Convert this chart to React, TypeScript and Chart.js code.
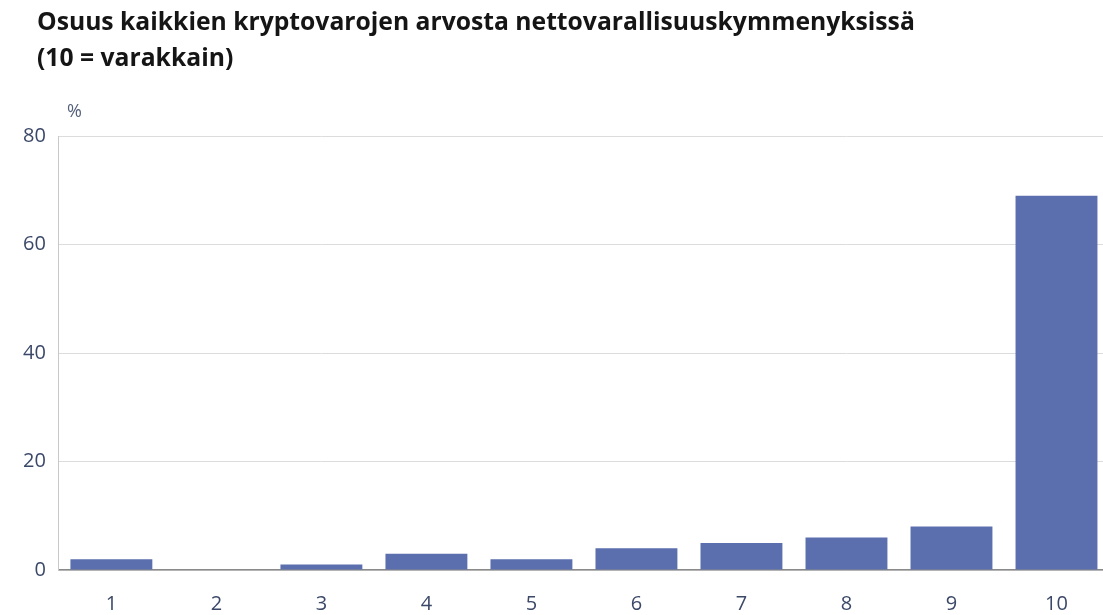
import React, { useEffect, useRef } from "react";
import { Chart, registerables } from "chart.js";

Chart.register(...registerables);

const titleLines = [
  "Osuus kaikkien kryptovarojen arvosta nettovarallisuuskymmenyksissä",
  "(10 = varakkain)",
];
const unitLabel = "%";
const categories = ["1", "2", "3", "4", "5", "6", "7", "8", "9", "10"];
const shares = [2, 0, 1, 3, 2, 4, 5, 6, 8, 69];
const yTicks = [0, 20, 40, 60, 80];

const FONT = "'Open Sans', 'Noto Sans', sans-serif";
const TICK_COLOR = "#3b4868";

const textPlugin = {
  id: "textPlugin",
  afterDraw(chart: any) {
    const ctx = chart.ctx;
    ctx.save();
    ctx.fillStyle = "#151515";
    ctx.font = `bold 24.7px ${FONT}`;
    ctx.textBaseline = "middle";
    ctx.textAlign = "left";
    ctx.fillText(titleLines[0], 37, 23);
    ctx.fillText(titleLines[1], 37, 59);
    ctx.fillStyle = "#55607a";
    ctx.font = `18px ${FONT}`;
    ctx.fillText(unitLabel, 67, 112);
    ctx.restore();
  },
};

export default function App() {
  const ref = useRef<HTMLCanvasElement | null>(null);
  useEffect(() => {
    document.body.style.margin = "0";
    const chart = new Chart(ref.current as HTMLCanvasElement, {
      type: "bar",
      data: {
        labels: categories,
        datasets: [
          {
            data: shares,
            backgroundColor: "#5b6eae",
            categoryPercentage: 0.78,
            barPercentage: 1,
          },
        ],
      },
      options: {
        animation: false,
        responsive: false,
        maintainAspectRatio: false,
        layout: { padding: { top: 136, left: 10, right: 3, bottom: 0 } },
        plugins: { legend: { display: false }, tooltip: { enabled: false } },
        scales: {
          x: {
            grid: { display: false, drawTicks: false },
            border: { display: true, color: "#8a8a8a", width: 1.5 },
            ticks: {
              color: TICK_COLOR,
              font: { family: FONT, size: 20 },
              padding: 22,
            },
          },
          y: {
            min: 0,
            max: 80,
            afterBuildTicks: (axis: any) => {
              axis.ticks = yTicks.map((v) => ({ value: v }));
            },
            grid: { color: "#dcdcdc", drawTicks: false, lineWidth: 1 },
            border: { display: true, color: "#c8c8c8", width: 1 },
            ticks: {
              color: TICK_COLOR,
              font: { family: FONT, size: 20 },
              padding: 13,
            },
          },
        },
      },
      plugins: [textPlugin],
    });
    return () => chart.destroy();
  }, []);
  return (
    <div
      style={{
        position: "fixed",
        left: 0,
        top: 0,
        width: 1103,
        height: 615,
        overflow: "hidden",
        background: "#fff",
      }}
    >
      <canvas
        ref={ref}
        width={1112}
        height={638}
        style={{ width: 1112, height: 638, display: "block" }}
      />
    </div>
  );
}
